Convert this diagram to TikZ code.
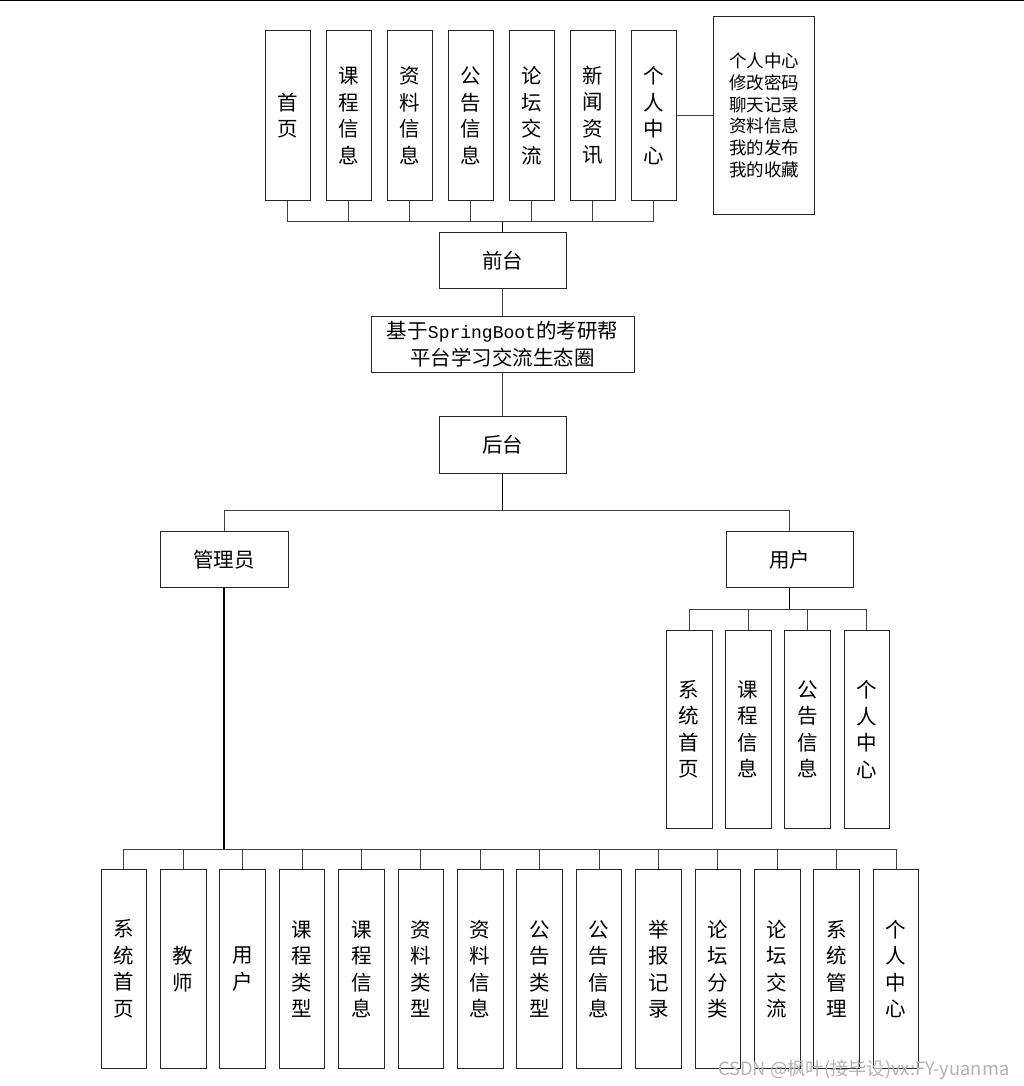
\documentclass[tikz,border=0pt]{standalone}
\usepackage{fontspec}
\setmainfont{Noto Sans CJK SC}
\newfontfamily\latinmono{Liberation Mono}
\begin{document}
\begin{tikzpicture}[x=1pt,y=-1pt,
  box/.style={draw=black!85,line width=0.9pt,fill=white,inner sep=0pt,align=center,font=\fontsize{20.5}{26.5}\selectfont},
  vbox/.style={box,minimum width=45pt,minimum height=169.5pt},
  lbox/.style={box,minimum width=45.5pt,minimum height=198.5pt},
  hbox/.style={box,minimum width=127pt,minimum height=56.5pt},
  conn/.style={draw=black!75,line width=0.9pt},
  trunk/.style={draw=black,line width=1.7pt}]
\useasboundingbox (0,0) rectangle (1024,1086);
\fill[white] (0,0) rectangle (1024,1086);
\draw[black,line width=1pt] (0,0.5) -- (1024,0.5);

% ---------- front end ----------
\node[vbox] (f1) at (287.6,115.5) {首\\页};
\node[vbox] (f2) at (348.6,115.5) {课\\程\\信\\息};
\node[vbox] (f3) at (409.6,115.5) {资\\料\\信\\息};
\node[vbox] (f4) at (470.6,115.5) {公\\告\\信\\息};
\node[vbox] (f5) at (531.6,115.5) {论\\坛\\交\\流};
\node[vbox] (f6) at (592.6,115.5) {新\\闻\\资\\讯};
\node[vbox] (f7) at (653.6,115.5) {个\\人\\中\\心};
\node[box,minimum width=101.5pt,minimum height=198pt,font=\fontsize{17.5}{21.8}\selectfont] (fr) at (764,115.3)
  {个人中心\\修改密码\\聊天记录\\资料信息\\我的发布\\我的收藏};

\node[hbox] (qt) at (502.5,260.5) {前台};
\node[box,minimum width=263pt,minimum height=56pt] (sys) at (502.5,344)
  {基于{\latinmono\fontsize{18}{26}\selectfont SpringBoot}的考研帮\\平台学习交流生态圈};
\node[hbox] (ht) at (502.5,445) {后台};

\coordinate (tb) at (502.5,221.7);
\foreach \n in {f1,f2,f3,f4,f5,f6,f7} \draw[conn] (\n.south) |- (tb);
\draw[trunk] (qt.north) -- (tb);
\draw[conn] (f7.east |- fr.west) -- (fr.west);
\draw[conn] (qt.south) -- (sys.north);
\draw[conn] (sys.south) -- (ht.north);

% ---------- back end ----------
\node[hbox,minimum width=128pt] (adm) at (224,559.5) {管理员};
\node[hbox] (usr) at (789.5,559.5) {用户};
\coordinate (hb) at (502.5,510.3);
\draw[trunk] (ht.south) -- (hb);
\draw[conn] (adm.north) |- (hb);
\draw[conn] (usr.north) |- (hb);

% user children
\node[lbox,minimum height=198pt] (u1) at (689.2,729.3) {系\\统\\首\\页};
\node[lbox,minimum height=198pt] (u2) at (748.2,729.3) {课\\程\\信\\息};
\node[lbox,minimum height=198pt] (u3) at (807.5,729.3) {公\\告\\信\\息};
\node[lbox,minimum height=198pt] (u4) at (866.8,729.3) {个\\人\\中\\心};
\coordinate (ub) at (789.5,609);
\draw[trunk] (usr.south) -- (ub);
\foreach \n in {u1,u2,u3,u4} \draw[conn] (\n.north) |- (ub);

% admin children
\node[lbox] (a1) at (123.8,969) {系\\统\\首\\页};
\node[lbox] (a2) at (183.2,969) {教\\师};
\node[lbox] (a3) at (242.6,969) {用\\户};
\node[lbox] (a4) at (302.0,969) {课\\程\\类\\型};
\node[lbox] (a5) at (361.4,969) {课\\程\\信\\息};
\node[lbox] (a6) at (420.8,969) {资\\料\\类\\型};
\node[lbox] (a7) at (480.2,969) {资\\料\\信\\息};
\node[lbox] (a8) at (539.6,969) {公\\告\\类\\型};
\node[lbox] (a9) at (599.0,969) {公\\告\\信\\息};
\node[lbox] (a10) at (658.4,969) {举\\报\\记\\录};
\node[lbox] (a11) at (717.8,969) {论\\坛\\分\\类};
\node[lbox] (a12) at (777.2,969) {论\\坛\\交\\流};
\node[lbox] (a13) at (836.6,969) {系\\统\\管\\理};
\node[lbox] (a14) at (896.0,969) {个\\人\\中\\心};
\coordinate (ab) at (224,849);
\draw[trunk] (adm.south) -- (ab);
\foreach \n in {a1,a2,a3,a4,a5,a6,a7,a8,a9,a10,a11,a12,a13,a14} \draw[conn] (\n.north) |- (ab);

% watermark
\node[anchor=base west,inner sep=0pt,text=black!30,font=\fontsize{18.3}{22}\selectfont] (wm) at (718,1075) {CSDN @枫叶(接毕设)vx:FY-yuanma};
\end{tikzpicture}
\end{document}
